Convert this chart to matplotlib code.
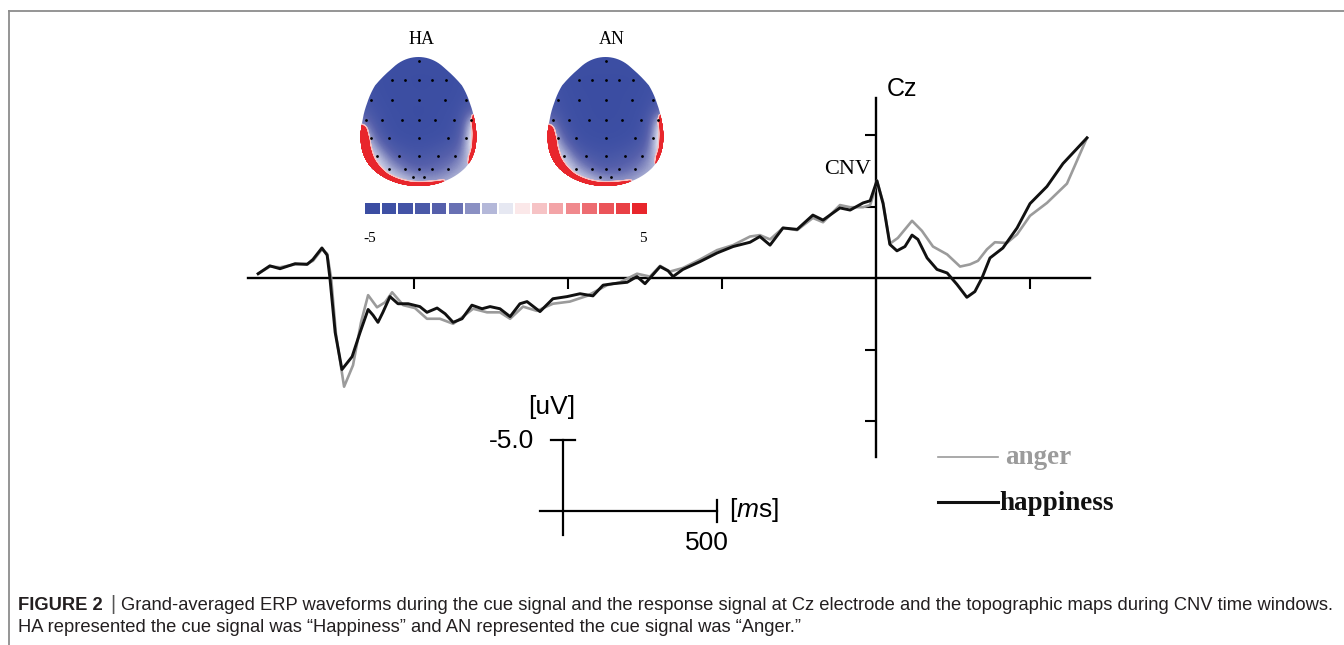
import numpy as np
import matplotlib
matplotlib.use("Agg")
import matplotlib.pyplot as plt
from matplotlib.colors import LinearSegmentedColormap
from matplotlib.path import Path
from matplotlib.patches import PathPatch
from matplotlib.lines import Line2D
from matplotlib.collections import LineCollection

plt.rcParams['mathtext.fontset'] = 'custom'
plt.rcParams['mathtext.rm'] = 'Liberation Sans'
plt.rcParams['mathtext.it'] = 'Liberation Sans:italic'

# ------------------------------------------------------------------ data
# time (ms, 0 = response onset) and amplitude (uV, negative plotted upward)
happy_t = [-2006, -1968, -1935, -1886, -1847, -1828, -1799, -1782, -1773, -1756,
           -1734, -1701, -1675, -1649, -1633, -1617, -1601, -1578, -1552, -1519,
           -1481, -1458, -1425, -1399, -1373, -1344, -1312, -1279, -1253, -1221,
           -1188, -1156, -1133, -1091, -1049, -1003, -961, -919, -886, -854,
           -808, -776, -750, -701, -675, -659, -627, -571, -516, -464,
           -409, -377, -344, -302, -256, -205, -172, -117, -84, -42,
           -19, 3, 23, 45, 68, 94, 117, 136, 166, 198,
           231, 263, 295, 321, 344, 370, 412, 458, 500, 555,
           607, 685]
happy_v = [-0.3, -0.85, -0.65, -1.0, -0.95, -1.3, -2.1, -1.6, 0.0, 3.8,
           6.4, 5.5, 3.8, 2.2, 2.6, 3.1, 2.4, 1.3, 1.8, 1.8,
           2.0, 2.4, 2.1, 2.5, 3.1, 2.85, 1.9, 2.15, 2.0, 2.15,
           2.7, 1.8, 1.65, 2.35, 1.45, 1.3, 1.1, 1.25, 0.5, 0.4,
           0.3, -0.1, 0.4, -0.8, -0.5, -0.1, -0.6, -1.15, -1.75, -2.2,
           -2.5, -2.9, -2.3, -3.5, -3.4, -4.4, -4.05, -4.9, -4.75, -5.25,
           -5.4, -6.8, -5.2, -2.35, -1.9, -2.2, -3.0, -2.7, -1.4, -0.6,
           -0.35, 0.45, 1.35, 0.95, 0.0, -1.4, -2.1, -3.5, -5.2, -6.4,
           -8.0, -9.8]

anger_t = [-2006, -1968, -1935, -1886, -1847, -1828, -1799, -1782, -1769, -1753,
           -1727, -1698, -1672, -1649, -1620, -1594, -1571, -1535, -1497, -1458,
           -1416, -1373, -1341, -1308, -1263, -1221, -1188, -1146, -1101, -1049,
           -994, -938, -873, -831, -776, -734, -701, -669, -627, -571,
           -516, -464, -409, -377, -344, -302, -256, -205, -172, -117,
           -84, -42, -19, -10, 3, 23, 45, 71, 117, 149,
           185, 231, 273, 305, 331, 360, 386, 425, 458, 500,
           555, 620, 685]
anger_v = [-0.3, -0.8, -0.75, -0.95, -1.0, -1.2, -2.0, -1.7, 0.0, 4.0,
           7.6, 6.1, 3.1, 1.2, 2.05, 1.7, 1.0, 1.9, 2.1, 2.85,
           2.85, 3.2, 2.7, 2.15, 2.4, 2.4, 2.85, 2.0, 2.3, 1.8,
           1.65, 1.25, 0.5, 0.3, -0.3, -0.1, -0.85, -0.45, -0.7, -1.3,
           -1.95, -2.3, -2.9, -3.0, -2.7, -3.5, -3.35, -4.2, -3.9, -5.1,
           -4.95, -4.95, -5.1, -5.7, -6.8, -5.3, -2.4, -2.8, -4.0, -3.3,
           -2.2, -1.65, -0.8, -0.95, -1.2, -2.0, -2.5, -2.45, -3.05, -4.35,
           -5.25, -6.6, -9.8]

series_names = ["anger", "happiness"]
series_colors = ["#9b9b9b", "#111111"]

xticks_ms = [-1500, -1000, -500, 500]
yticks_uv = [-10, -5, 5, 10]
scale_uv = 5.0
scale_ms = 500

# topographic maps (uV on a coarse grid over the head, top row = frontal)
ha_grid = [
    [-4.0, -4.2, -4.5, -4.6, -4.6, -4.6, -4.5, -4.2, -4.0],
    [-4.0, -4.5, -4.8, -4.8, -4.8, -4.8, -4.8, -4.5, -4.0],
    [-3.8, -4.5, -4.8, -4.6, -4.9, -4.7, -4.8, -4.5, -3.8],
    [-3.4, -4.3, -4.7, -4.8, -4.6, -4.8, -4.7, -4.3, -3.4],
    [-3.0, -4.0, -4.5, -4.7, -4.9, -4.7, -4.5, -4.0, -2.0],
    [-1.5, -3.6, -4.4, -4.6, -4.8, -4.6, -4.4, -3.6, 0.0],
    [-0.2, -2.8, -4.2, -4.5, -4.6, -4.5, -4.2, -3.2, 0.5],
    [0.0, -1.5, -3.2, -3.8, -4.0, -3.8, -3.2, -2.6, 0.5],
    [0.0, -0.3, -2.0, -2.8, -3.2, -2.8, -2.5, -1.8, 0.0],
    [0.0, 0.0, -0.8, -1.8, -2.4, -2.2, -1.8, -1.0, -0.5],
    [0.0, 0.0, 0.0, -0.3, -0.8, -1.0, -0.8, -0.5, -0.5],
]
an_grid = [
    [-4.0, -4.2, -4.5, -4.6, -4.6, -4.6, -4.5, -4.2, -4.0],
    [-4.0, -4.5, -4.8, -4.8, -4.8, -4.8, -4.8, -4.5, -4.0],
    [-3.8, -4.5, -4.8, -4.8, -4.9, -4.8, -4.8, -4.5, -3.8],
    [-3.4, -4.3, -4.7, -4.8, -4.8, -4.8, -4.7, -4.3, -3.4],
    [-3.0, -4.1, -4.6, -4.8, -4.9, -4.8, -4.6, -4.0, -2.0],
    [-1.5, -3.7, -4.5, -4.7, -4.8, -4.7, -4.5, -3.6, 0.0],
    [-0.2, -2.9, -4.3, -4.6, -4.7, -4.6, -4.3, -3.2, 0.5],
    [0.0, -1.6, -3.4, -4.0, -4.2, -4.0, -3.4, -2.6, 0.5],
    [0.0, -0.4, -2.2, -3.0, -3.4, -3.0, -2.7, -1.8, 0.0],
    [0.0, 0.0, -0.9, -2.0, -2.6, -2.4, -1.9, -1.1, -0.5],
    [0.0, 0.0, 0.0, -0.4, -0.9, -1.1, -0.9, -0.5, -0.5],
]
map_titles = ["HA", "AN"]

# head outline: half-width factor (relative to a circle)
head_ny = [-1.0, -0.82, -0.56, -0.29, -0.02, 0.24, 0.5, 0.72, 0.88, 1.0]
head_g = [0.80, 0.78, 0.88, 0.90, 0.94, 1.00, 1.07, 1.13, 1.15, 1.15]

# positive (red) rim along the lower-left edge and thin strip on the right edge
rim_left_ny = [0.09, 0.15, 0.30, 0.50, 0.72, 0.88, 1.0]
rim_left_px = [1.0, 6.0, 8.5, 8.5, 7.0, 4.5, 3.5]
rim_right_ny = [0.93, 1.0]
rim_right_px = [1.0, 3.5]
strip_ny = [-0.10, 0.00, 0.30, 0.55, 0.65]
strip_px = [0.5, 3.0, 3.5, 3.0, 0.5]

# electrode positions (normalised head coordinates)
elec_x = [0.0,
          -0.45, -0.23, 0.0, 0.23, 0.47,
          -0.79, -0.44, 0.0, 0.45, 0.79,
          -0.88, -0.61, -0.28, 0.0, 0.28, 0.59, 0.88,
          -0.79, -0.49, 0.0, 0.49, 0.79,
          -0.69, -0.32, 0.0, 0.32, 0.62,
          -0.49, -0.23, 0.0, 0.23, 0.49,
          -0.1, 0.1]
elec_y = [-0.94,
          -0.65, -0.65, -0.65, -0.65, -0.65,
          -0.34, -0.34, -0.34, -0.34, -0.34,
          -0.02, -0.02, -0.02, -0.02, -0.02, -0.02, -0.02,
          0.26, 0.26, 0.26, 0.26, 0.26,
          0.54, 0.54, 0.54, 0.54, 0.54,
          0.73, 0.73, 0.73, 0.73, 0.73,
          0.86, 0.86]

cbar_colors = ['#3b4da2', '#3e50a4', '#4353a6', '#4a59a8', '#555fab', '#6870b3',
               '#8a90c3', '#b4b8d9', '#e6e8f2', '#fbe8e9', '#f6c3c5', '#f3a4a7',
               '#f0898d', '#ed6c71', '#eb5459', '#e94045', '#e8262c']
cbar_labels = ["-5", "5"]

caption_bold = "FIGURE 2"
caption_line1 = ("Grand-averaged ERP waveforms during the cue signal and the response "
                 "signal at Cz electrode and the topographic maps during CNV time windows.")
caption_line2 = ("HA represented the cue signal was \u201cHappiness\u201d and AN represented "
                 "the cue signal was \u201cAnger.\u201d")

# ------------------------------------------------------------------ layout
W, H, DPI = 1344, 645, 100
X0, Y0 = 876.0, 278.0          # pixel position of (0 ms, 0 uV)
PX_MS, PX_UV = 0.308, 14.3      # pixels per ms / per uV

fig = plt.figure(figsize=(W / DPI, H / DPI), dpi=DPI)
fig.patch.set_facecolor("white")


def fx(px):
    return px / W


def fy(py):
    return 1 - py / H


def ftext(x, y, s, **kw):
    return fig.text(fx(x), fy(y), s, **kw)


# figure frame (top and left grey rule)
fig.add_artist(Line2D([fx(9), 1.0], [fy(11), fy(11)], color="#8c8c8c", lw=1.3))
fig.add_artist(Line2D([fx(9), fx(9)], [fy(11), 0.0], color="#8c8c8c", lw=1.3))

ax = fig.add_axes([0, 0, 1, 1])
ax.patch.set_alpha(0)
ax.set_xlim((0 - X0) / PX_MS, (W - X0) / PX_MS)
ax.set_ylim((H - Y0) / PX_UV, (0 - Y0) / PX_UV)   # negative up

for name, col, t, v, lw in zip(series_names, series_colors,
                               [anger_t, happy_t], [anger_v, happy_v], [1.9, 2.1]):
    ax.plot(t, v, color=col, lw=lw, solid_joinstyle="round", label=name, zorder=3)

for s in ("top", "right"):
    ax.spines[s].set_visible(False)
ax.spines["left"].set_position(("data", 0))
ax.spines["bottom"].set_position(("data", 0))
ax.spines["left"].set_bounds((457 - Y0) / PX_UV, (98 - Y0) / PX_UV)
ax.spines["bottom"].set_bounds((248 - X0) / PX_MS, (1090 - X0) / PX_MS)
ax.spines["left"].set_linewidth(1.7)
ax.spines["bottom"].set_linewidth(1.7)
ax.set_xticks(xticks_ms)
ax.set_yticks(yticks_uv)
ax.set_xticklabels([])
ax.set_yticklabels([])
ax.tick_params(direction="out", length=8, width=1.5, color="black")

# scale bar
sb_t, sb_v = (563 - X0) / PX_MS, (511 - Y0) / PX_UV
ax.plot([sb_t, sb_t], [sb_v - scale_uv, sb_v + 24 / PX_UV], color="black", lw=1.6)
ax.plot([sb_t - 12 / PX_MS, sb_t + 12 / PX_MS], [sb_v - scale_uv] * 2, color="black", lw=1.6)
ax.plot([sb_t - 23 / PX_MS, sb_t + scale_ms], [sb_v, sb_v], color="black", lw=1.6)
ax.plot([sb_t + scale_ms] * 2, [sb_v - 11 / PX_UV, sb_v + 11 / PX_UV], color="black", lw=1.6)

sans = "Liberation Sans"
serif = "Liberation Serif"
ftext(552, 407, "[uV]", family=sans, fontsize=19, ha="center", va="center")
ftext(534, 441, "%.1f" % (-scale_uv), family=sans, fontsize=19, ha="right", va="center")
ftext(729, 510, r"[$\mathit{m}$s]", family=sans, fontsize=19, ha="left", va="center")
ftext(707, 543, "%d" % scale_ms, family=sans, fontsize=19, ha="center", va="center")
ftext(902, 89, "Cz", family=sans, fontsize=18, ha="center", va="center")
ftext(848, 170, "CNV", family=serif, fontsize=16, ha="center", va="center")

# legend (drawn manually to match)
leg_y = [457, 502]
leg_lw = [1.2, 2.2]
leg_tx = [1005, 999]
for name, col, y, lw, tx in zip(series_names, series_colors, leg_y, leg_lw, leg_tx):
    fig.add_artist(Line2D([fx(938), fx(998)], [fy(y), fy(y)], color=col, lw=lw))
    ftext(tx, y + 1, name, family=serif, fontsize=19.5, fontweight="bold",
          color=col, ha="left", va="center")

# topographic maps
cmap = LinearSegmentedColormap.from_list("topo", cbar_colors)
ny_f = -np.cos(np.linspace(0, np.pi, 400))
hw_f = np.sqrt(np.clip(1 - ny_f ** 2, 0, None)) * np.interp(ny_f, head_ny, head_g)
right_side = np.column_stack([hw_f, ny_f])            # top -> bottom
left_side = np.column_stack([-hw_f[::-1], ny_f[::-1]])  # bottom -> top
outline = np.vstack([right_side, left_side[1:]])

# rim polyline: bottom-right part then up the left side
rr = right_side[right_side[:, 1] >= rim_right_ny[0]]
ll = left_side[left_side[:, 1] >= rim_left_ny[0]]
rim_pts = np.vstack([rr, ll])
rim_w = np.concatenate([np.interp(rr[:, 1], rim_right_ny, rim_right_px),
                        np.interp(ll[:, 1], rim_left_ny, rim_left_px)])
st = right_side[(right_side[:, 1] >= strip_ny[0]) & (right_side[:, 1] <= strip_ny[-1])]
st_w = np.interp(st[:, 1], strip_ny, strip_px)
PT_PER_PX = 72.0 / DPI


def rim_collection(pts, w_px, tr, color, extra=0.0):
    segs = np.stack([pts[:-1], pts[1:]], axis=1)
    wmid = 0.5 * (w_px[:-1] + w_px[1:])
    wmid = np.where(wmid > 1.0, wmid + extra, wmid)
    return LineCollection(segs, linewidths=2 * wmid * PT_PER_PX, colors=color,
                          capstyle="round", transform=tr, zorder=3)


for title, grid, (x0, x1), tcx in zip(map_titles, [ha_grid, an_grid],
                                      [(359, 478), (546, 665)], [422, 612]):
    am = fig.add_axes([fx(x0), fy(186), (x1 - x0) / W, (186 - 57) / H])
    am.set_xlim(-1, 1)
    am.set_ylim(1, -1)
    am.axis("off")
    im = am.imshow(np.array(grid), cmap=cmap, vmin=-5, vmax=5, extent=(-1, 1, 1, -1),
                   interpolation="bicubic", aspect="auto")
    patch = PathPatch(Path(outline), facecolor="none", edgecolor="none",
                      transform=am.transData)
    am.add_patch(patch)
    im.set_clip_path(patch)
    for pts, w in ((rim_pts, rim_w), (st, st_w)):
        for color, extra in (("#f6c3c5", 1.5), ("#e8262c", 0.0)):
            lc = rim_collection(pts, w, am.transData, color, extra)
            am.add_collection(lc)
            lc.set_clip_path(patch)
    am.plot(elec_x, elec_y, "o", color="black", ms=2.0, mew=0, zorder=4)
    ftext(tcx, 40, title, family=serif, fontsize=13, ha="center", va="center")

# colour bar
acb = fig.add_axes([fx(365), fy(214), (647 - 365) / W, (214 - 203) / H])
acb.bar(range(len(cbar_colors)), 1, width=0.874, color=cbar_colors)
acb.set_xlim(-0.437, len(cbar_colors) - 1 + 0.437)
acb.set_ylim(0, 1)
acb.axis("off")
ftext(370, 238, cbar_labels[0], family=serif, fontsize=11, ha="center", va="center")
ftext(643, 238, cbar_labels[1], family=serif, fontsize=11, ha="center", va="center")

# caption
cap_fs = 13.2
cap_col = "#231f20"
t1 = ftext(18, 606, caption_bold, family=sans, fontsize=cap_fs, fontweight="bold",
           color=cap_col, ha="left", va="center")
fig.canvas.draw()
r = fig.canvas.get_renderer()
bb = t1.get_window_extent(renderer=r)
bar_x = bb.x1 + 7
ftext(bar_x, 605, "|", family=sans, fontsize=cap_fs + 1, color="#555555", ha="left", va="center")
ftext(bar_x + 11, 606, caption_line1, family=sans, fontsize=cap_fs, color=cap_col,
      ha="left", va="center")
ftext(18, 628, caption_line2, family=sans, fontsize=cap_fs, color=cap_col,
      ha="left", va="center")

fig.savefig("out.png", dpi=DPI, facecolor="white")
